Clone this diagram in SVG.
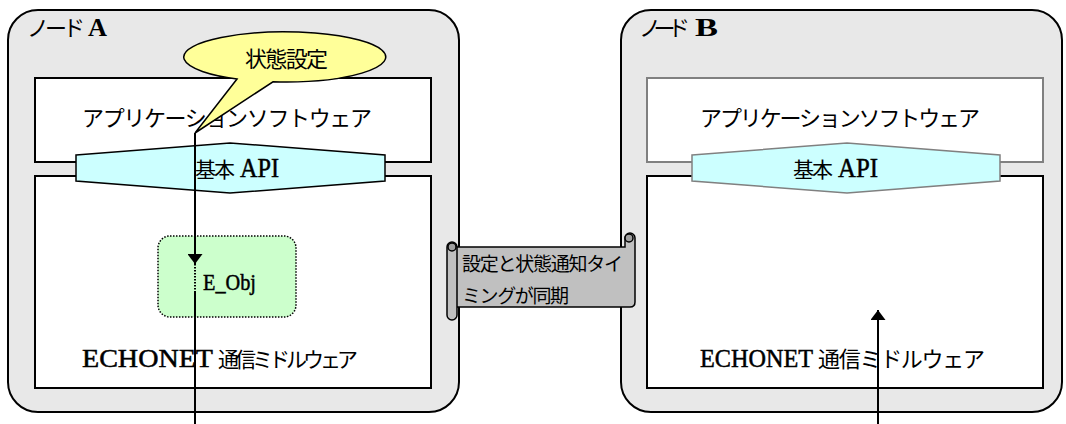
<svg xmlns="http://www.w3.org/2000/svg" width="1066" height="424" viewBox="0 0 1066 424">
<style>
.node{fill:#e8e8e8;stroke:#000;stroke-width:2}
.box{fill:#fff;stroke:#000;stroke-width:2}
.boxg{fill:#fff;stroke:#808080;stroke-width:2}
.api{fill:#ccffff;stroke:#000;stroke-width:1.5}
.apig{fill:#ccffff;stroke:#808080;stroke-width:1.5}
.jp{font-family:"Noto Sans CJK JP","Noto Sans",sans-serif;fill:#000}
.lat{font-family:"Liberation Serif",serif;fill:#000;stroke:#000;stroke-width:0.5}
.b{font-weight:bold;stroke-width:0}
.conn{stroke:#000;stroke-width:2;fill:none}
</style>
<defs>
<marker id="ah" viewBox="0 0 10 15" refX="10" refY="7.5" markerWidth="10" markerHeight="15" markerUnits="userSpaceOnUse" orient="auto">
<path d="M0,0 L10,7.5 L0,15 Z" fill="#000"/>
</marker>
</defs>

<g id="nodeA">
<rect class="node" x="8" y="10" width="451" height="402" rx="30" ry="30"/>
<text class="jp" x="27" y="36" font-size="22" textLength="58" lengthAdjust="spacing">ノード</text>
<text class="lat b" x="88" y="36" font-size="25" textLength="19" lengthAdjust="spacingAndGlyphs">A</text>
</g>
<g id="appA">
<rect class="box" x="35" y="78" width="396" height="84"/>
<text class="jp" x="82" y="126" font-size="22" textLength="290" lengthAdjust="spacing">アプリケーションソフトウェア</text>
</g>
<g id="mwA">
<rect class="box" x="35" y="176" width="396" height="212"/>
<text class="lat" x="82" y="367" font-size="26" textLength="131" lengthAdjust="spacingAndGlyphs">ECHONET</text>
<text class="jp" x="218" y="367" font-size="21" textLength="140" lengthAdjust="spacing">通信ミドルウェア</text>
</g>
<g id="apiA">
<polygon class="api" points="76,155 230,143 385,155 385,181 230,193 76,181"/>
<text class="jp" x="195" y="177" font-size="21" textLength="40" lengthAdjust="spacing">基本</text>
<text class="lat" x="240" y="177" font-size="27" textLength="39" lengthAdjust="spacingAndGlyphs">API</text>
</g>
<g id="eobj">
<rect x="158" y="236" width="138" height="81" rx="12" ry="12" fill="#ccffcc" stroke="#000" stroke-width="1.5" stroke-dasharray="1.5,1.5"/>
<text class="lat" x="203" y="290" font-size="24" textLength="53" lengthAdjust="spacingAndGlyphs">E_Obj</text>
</g>
<g id="callout">
<path d="M237,79 A101,25 0 1 1 273,81.8 L195,133 Z" fill="#ffff99" stroke="#000" stroke-width="1.5"/>
<text class="jp" x="245" y="67" font-size="22" textLength="83" lengthAdjust="spacing">状態設定</text>
</g>

<g id="nodeB">
<rect class="node" x="621" y="10" width="441" height="402" rx="30" ry="30"/>
<text class="jp" x="639" y="36" font-size="22" textLength="51" lengthAdjust="spacing">ノード</text>
<text class="lat b" x="695" y="36" font-size="25" textLength="23" lengthAdjust="spacingAndGlyphs">B</text>
</g>
<g id="appB">
<rect class="boxg" x="647" y="78" width="396" height="84"/>
<text class="jp" x="700" y="126" font-size="22" textLength="280" lengthAdjust="spacing">アプリケーションソフトウェア</text>
</g>
<g id="mwB">
<rect class="box" x="647" y="176" width="396" height="212"/>
<text class="lat" x="700" y="367" font-size="26" textLength="113" lengthAdjust="spacingAndGlyphs">ECHONET</text>
<text class="jp" x="818" y="367" font-size="22" textLength="167" lengthAdjust="spacing">通信ミドルウェア</text>
</g>
<g id="apiB">
<polygon class="apig" points="692,155 847,143 1000,155 1000,181 847,193 692,181"/>
<text class="jp" x="793" y="177" font-size="21" textLength="40" lengthAdjust="spacing">基本</text>
<text class="lat" x="838" y="177" font-size="27" textLength="40" lengthAdjust="spacingAndGlyphs">API</text>
</g>

<g id="scroll">
<path d="M455,247 H625 V238 A5,5 0 0 1 635,238 V302 Q635,307 630,307 H455 Z" fill="#c0c0c0" stroke="#000" stroke-width="1.5"/>
<circle cx="629" cy="238" r="4" fill="#a0a0a0" stroke="#000" stroke-width="1.5"/>
<rect x="447" y="242" width="10" height="78" rx="5" ry="5" fill="#c0c0c0" stroke="#000" stroke-width="1.5"/>
<circle cx="452" cy="247" r="4" fill="#a0a0a0" stroke="#000" stroke-width="1.5"/>
<text class="jp" x="462" y="271" font-size="19" textLength="161" lengthAdjust="spacing">設定と状態通知タイ</text>
<text class="jp" x="462" y="303" font-size="19" textLength="107" lengthAdjust="spacing">ミングが同期</text>
</g>

<g id="connectors">
<line class="conn" x1="195" y1="133" x2="195" y2="264" marker-end="url(#ah)"/>
<line x1="195" y1="264" x2="195" y2="292" stroke="#000" stroke-width="2" stroke-dasharray="1.5,1.5"/>
<line class="conn" x1="195" y1="292" x2="195" y2="424"/>
<line class="conn" x1="878" y1="424" x2="878" y2="310" marker-end="url(#ah)"/>
</g>
</svg>
